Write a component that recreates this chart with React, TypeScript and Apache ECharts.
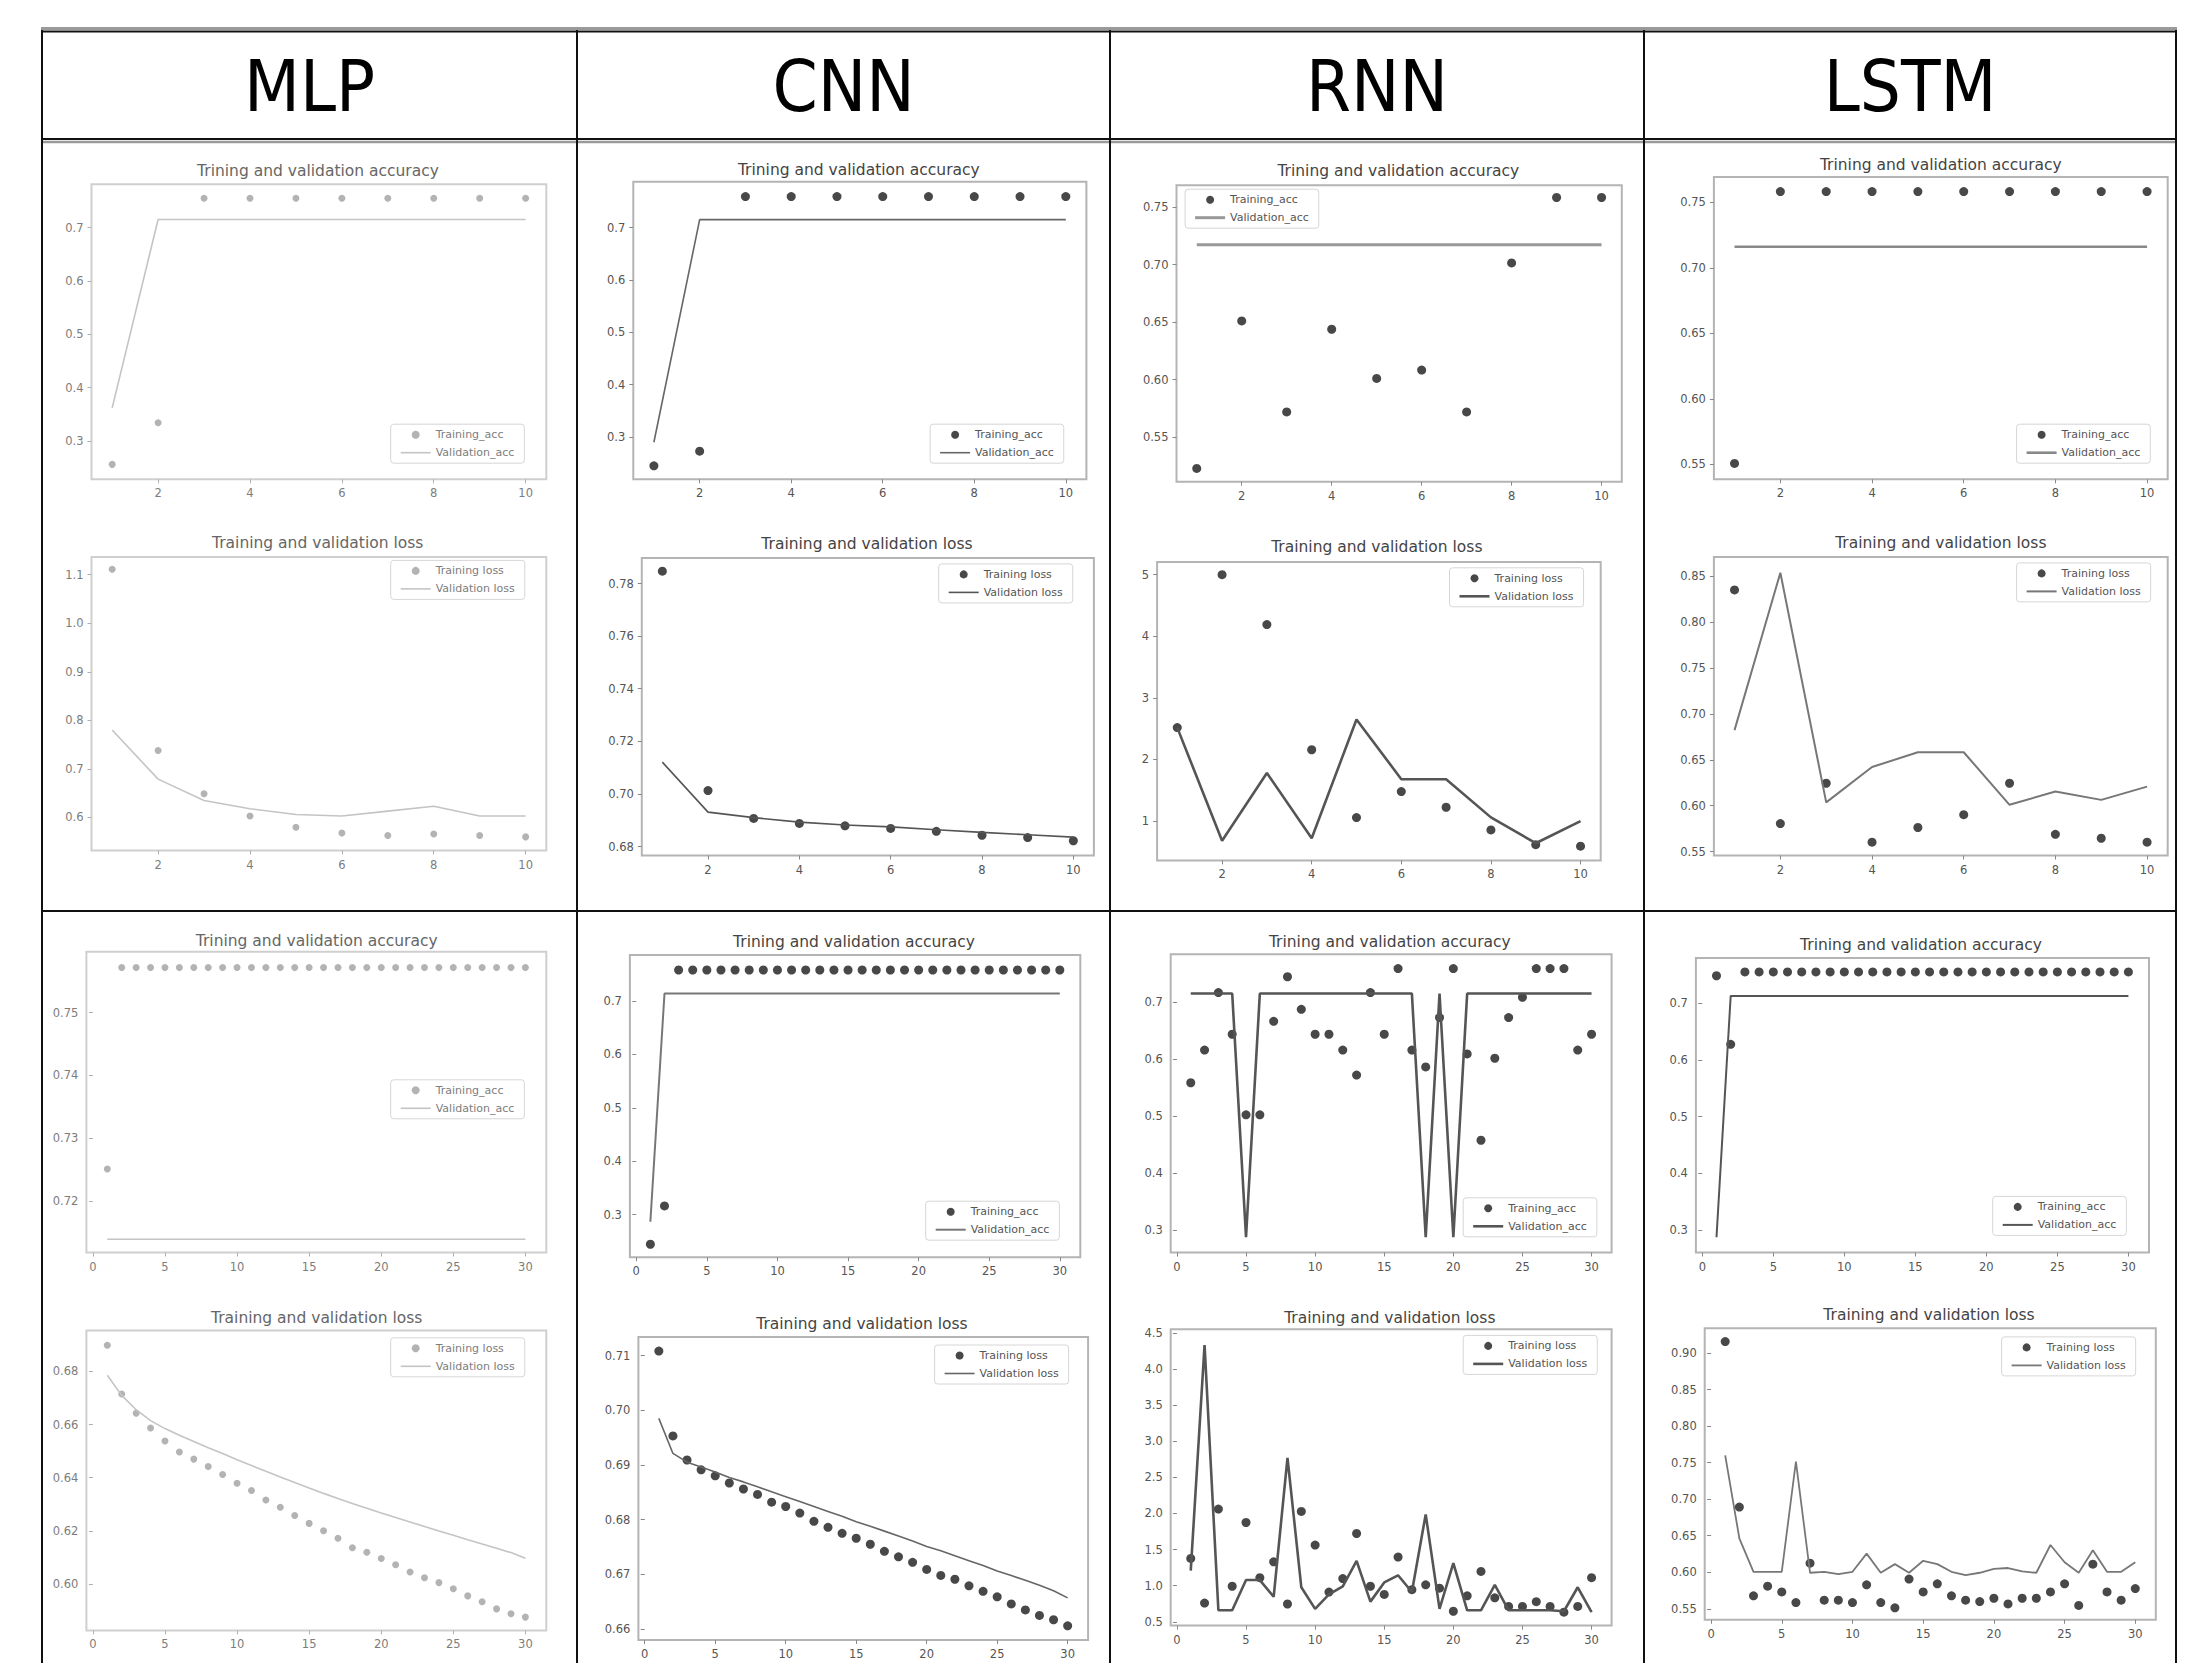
import React, { useEffect, useRef } from 'react';
import * as echarts from 'echarts';

// ---------------- data ----------------
const EPOCHS_10 = [1, 2, 3, 4, 5, 6, 7, 8, 9, 10];
const EPOCHS_30 = [1, 2, 3, 4, 5, 6, 7, 8, 9, 10, 11, 12, 13, 14, 15, 16, 17, 18, 19, 20, 21, 22, 23, 24, 25, 26, 27, 28, 29, 30];

const MODELS = ['MLP', 'CNN', 'RNN', 'LSTM'];
const ACC_TITLE = 'Trining and validation accuracy';
const LOSS_TITLE = 'Training and validation loss';
const ACC_LEGEND = ['Training_acc', 'Validation_acc'];
const LOSS_LEGEND = ['Training loss', 'Validation loss'];

const X_TICKS_10 = ['2', '4', '6', '8', '10'];
const X_TICKS_30 = ['0', '5', '10', '15', '20', '25', '30'];

// 10-epoch runs
const mlp10TrainAcc = [0.256, 0.334, 0.755, 0.755, 0.755, 0.755, 0.755, 0.755, 0.755, 0.755];
const mlp10ValAcc = [0.362, 0.715, 0.715, 0.715, 0.715, 0.715, 0.715, 0.715, 0.715, 0.715];
const mlp10TrainLoss = [1.111, 0.738, 0.649, 0.603, 0.58, 0.568, 0.563, 0.566, 0.563, 0.56];
const mlp10ValLoss = [0.78, 0.679, 0.635, 0.618, 0.606, 0.603, 0.613, 0.623, 0.603, 0.603];

const cnn10TrainAcc = [0.245, 0.273, 0.759, 0.759, 0.759, 0.759, 0.759, 0.759, 0.759, 0.759];
const cnn10ValAcc = [0.29, 0.715, 0.715, 0.715, 0.715, 0.715, 0.715, 0.715, 0.715, 0.715];
const cnn10TrainLoss = [0.7847, 0.7013, 0.6907, 0.6888, 0.6879, 0.6869, 0.6858, 0.6843, 0.6834, 0.6822];
const cnn10ValLoss = [0.7121, 0.6931, 0.691, 0.6893, 0.6882, 0.6875, 0.6864, 0.6854, 0.6845, 0.6836];

const rnn10TrainAcc = [0.5226, 0.6511, 0.5718, 0.6438, 0.601, 0.6082, 0.5718, 0.7016, 0.7586, 0.7586];
const rnn10ValAcc = [0.7175, 0.7175, 0.7175, 0.7175, 0.7175, 0.7175, 0.7175, 0.7175, 0.7175, 0.7175];
const rnn10TrainLoss = [2.517, 5.0, 4.19, 2.158, 1.056, 1.479, 1.224, 0.856, 0.617, 0.593];
const rnn10ValLoss = [2.517, 0.68, 1.78, 0.72, 2.65, 1.68, 1.68, 1.06, 0.64, 1.0];

const lstm10TrainAcc = [0.5508, 0.7583, 0.7583, 0.7583, 0.7583, 0.7583, 0.7583, 0.7583, 0.7583, 0.7583];
const lstm10ValAcc = [0.7162, 0.7162, 0.7162, 0.7162, 0.7162, 0.7162, 0.7162, 0.7162, 0.7162, 0.7162];
const lstm10TrainLoss = [0.835, 0.5805, 0.6244, 0.5602, 0.5762, 0.5902, 0.6244, 0.5688, 0.5645, 0.5602];
const lstm10ValLoss = [0.6823, 0.8538, 0.6036, 0.6421, 0.6582, 0.6582, 0.6009, 0.6154, 0.6063, 0.6207];

// 30-epoch runs
const mlp30TrainAcc = [0.7251, 0.7572, 0.7572, 0.7572, 0.7572, 0.7572, 0.7572, 0.7572, 0.7572, 0.7572, 0.7572, 0.7572, 0.7572, 0.7572, 0.7572, 0.7572, 0.7572, 0.7572, 0.7572, 0.7572, 0.7572, 0.7572, 0.7572, 0.7572, 0.7572, 0.7572, 0.7572, 0.7572, 0.7572, 0.7572];
const mlp30ValAcc = [0.7139, 0.7139, 0.7139, 0.7139, 0.7139, 0.7139, 0.7139, 0.7139, 0.7139, 0.7139, 0.7139, 0.7139, 0.7139, 0.7139, 0.7139, 0.7139, 0.7139, 0.7139, 0.7139, 0.7139, 0.7139, 0.7139, 0.7139, 0.7139, 0.7139, 0.7139, 0.7139, 0.7139, 0.7139, 0.7139];
const mlp30TrainLoss = [0.6899, 0.6715, 0.6643, 0.6587, 0.6538, 0.6497, 0.647, 0.6442, 0.6412, 0.6379, 0.6352, 0.6316, 0.6289, 0.6258, 0.6228, 0.62, 0.6172, 0.6136, 0.6119, 0.6096, 0.6072, 0.6045, 0.6023, 0.6005, 0.5982, 0.5955, 0.5933, 0.5906, 0.5888, 0.5875];
const mlp30ValLoss = [0.6786, 0.671, 0.6656, 0.6615, 0.6585, 0.656, 0.6536, 0.6513, 0.6491, 0.6468, 0.6446, 0.6424, 0.6403, 0.6382, 0.6361, 0.6341, 0.6322, 0.6303, 0.6285, 0.6267, 0.625, 0.6233, 0.6216, 0.6199, 0.6183, 0.6166, 0.615, 0.6134, 0.6118, 0.6097];

const cnn30TrainAcc = [0.2443, 0.3162, 0.7584, 0.7584, 0.7584, 0.7584, 0.7584, 0.7584, 0.7584, 0.7584, 0.7584, 0.7584, 0.7584, 0.7584, 0.7584, 0.7584, 0.7584, 0.7584, 0.7584, 0.7584, 0.7584, 0.7584, 0.7584, 0.7584, 0.7584, 0.7584, 0.7584, 0.7584, 0.7584, 0.7584];
const cnn30ValAcc = [0.2865, 0.7144, 0.7144, 0.7144, 0.7144, 0.7144, 0.7144, 0.7144, 0.7144, 0.7144, 0.7144, 0.7144, 0.7144, 0.7144, 0.7144, 0.7144, 0.7144, 0.7144, 0.7144, 0.7144, 0.7144, 0.7144, 0.7144, 0.7144, 0.7144, 0.7144, 0.7144, 0.7144, 0.7144, 0.7144];
const cnn30TrainLoss = [0.7108, 0.6953, 0.6909, 0.6891, 0.688, 0.6867, 0.6856, 0.6846, 0.6832, 0.6824, 0.6812, 0.6797, 0.6786, 0.6775, 0.6766, 0.6755, 0.6742, 0.6732, 0.6722, 0.6709, 0.6698, 0.6691, 0.6679, 0.6669, 0.6659, 0.6646, 0.6635, 0.6625, 0.6617, 0.6606];
const cnn30ValLoss = [0.6985, 0.6921, 0.6905, 0.6896, 0.6887, 0.6877, 0.6869, 0.686, 0.6851, 0.6842, 0.6833, 0.6824, 0.6815, 0.6806, 0.6796, 0.6788, 0.6779, 0.677, 0.6761, 0.6751, 0.6743, 0.6734, 0.6725, 0.6716, 0.6706, 0.6698, 0.6689, 0.668, 0.667, 0.6657];

const rnn30TrainAcc = [0.5585, 0.6158, 0.7168, 0.6436, 0.5021, 0.5021, 0.6663, 0.7446, 0.6874, 0.6436, 0.6436, 0.6158, 0.572, 0.7168, 0.6436, 0.7589, 0.6158, 0.5863, 0.673, 0.7589, 0.6091, 0.4575, 0.6015, 0.673, 0.7084, 0.7589, 0.7589, 0.7589, 0.6158, 0.6436];
const rnn30ValAcc = [0.7152, 0.7152, 0.7152, 0.7152, 0.2874, 0.7152, 0.7152, 0.7152, 0.7152, 0.7152, 0.7152, 0.7152, 0.7152, 0.7152, 0.7152, 0.7152, 0.7152, 0.2874, 0.7152, 0.2874, 0.7152, 0.7152, 0.7152, 0.7152, 0.7152, 0.7152, 0.7152, 0.7152, 0.7152, 0.7152];
const rnn30TrainLoss = [1.377, 0.759, 2.061, 0.992, 1.875, 1.111, 1.331, 0.746, 2.028, 1.563, 0.912, 1.098, 1.723, 0.992, 0.879, 1.397, 0.945, 1.012, 0.965, 0.646, 0.859, 1.198, 0.832, 0.713, 0.713, 0.779, 0.713, 0.633, 0.713, 1.111];
const rnn30ValLoss = [1.209, 4.334, 0.659, 0.659, 1.078, 1.078, 0.846, 2.772, 0.978, 0.679, 0.879, 0.992, 1.344, 0.779, 1.045, 1.144, 0.912, 1.988, 0.679, 1.311, 0.659, 0.659, 1.012, 0.659, 0.659, 0.659, 0.659, 0.646, 0.978, 0.633];

const lstm30TrainAcc = [0.7482, 0.6273, 0.755, 0.755, 0.755, 0.755, 0.755, 0.755, 0.755, 0.755, 0.755, 0.755, 0.755, 0.755, 0.755, 0.755, 0.755, 0.755, 0.755, 0.755, 0.755, 0.755, 0.755, 0.755, 0.755, 0.755, 0.755, 0.755, 0.755, 0.755];
const lstm30ValAcc = [0.2873, 0.7127, 0.7127, 0.7127, 0.7127, 0.7127, 0.7127, 0.7127, 0.7127, 0.7127, 0.7127, 0.7127, 0.7127, 0.7127, 0.7127, 0.7127, 0.7127, 0.7127, 0.7127, 0.7127, 0.7127, 0.7127, 0.7127, 0.7127, 0.7127, 0.7127, 0.7127, 0.7127, 0.7127, 0.7127];
const lstm30TrainLoss = [0.9158, 0.6892, 0.5677, 0.5809, 0.573, 0.5585, 0.6124, 0.5618, 0.5618, 0.5585, 0.5828, 0.5585, 0.5513, 0.5907, 0.573, 0.5841, 0.5677, 0.5618, 0.5598, 0.5644, 0.5566, 0.5644, 0.5644, 0.573, 0.5841, 0.5546, 0.6111, 0.573, 0.5618, 0.5776];
const lstm30ValLoss = [0.7601, 0.6465, 0.6006, 0.6006, 0.6006, 0.7516, 0.5993, 0.6006, 0.5973, 0.6006, 0.6255, 0.5993, 0.6111, 0.5993, 0.6157, 0.6111, 0.6006, 0.596, 0.5993, 0.6045, 0.6058, 0.6012, 0.5993, 0.6373, 0.6137, 0.5993, 0.6301, 0.6006, 0.6006, 0.6137];

// y tick labels
const Y_ACC_TENTHS = ['0.3', '0.4', '0.5', '0.6', '0.7'];
const Y_MLP10_LOSS = ['0.6', '0.7', '0.8', '0.9', '1.0', '1.1'];
const Y_CNN10_LOSS = ['0.68', '0.70', '0.72', '0.74', '0.76', '0.78'];
const Y_RNN10_ACC = ['0.55', '0.60', '0.65', '0.70', '0.75'];
const Y_RNN10_LOSS = ['1', '2', '3', '4', '5'];
const Y_LSTM10_LOSS = ['0.55', '0.60', '0.65', '0.70', '0.75', '0.80', '0.85'];
const Y_MLP30_ACC = ['0.72', '0.73', '0.74', '0.75'];
const Y_MLP30_LOSS = ['0.60', '0.62', '0.64', '0.66', '0.68'];
const Y_CNN30_LOSS = ['0.66', '0.67', '0.68', '0.69', '0.70', '0.71'];
const Y_RNN30_LOSS = ['0.5', '1.0', '1.5', '2.0', '2.5', '3.0', '3.5', '4.0', '4.5'];
const Y_LSTM30_LOSS = ['0.55', '0.60', '0.65', '0.70', '0.75', '0.80', '0.85', '0.90'];

// ---------------- layout / style ----------------
type Plot = {
  kind: 'acc' | 'loss';
  epochs: number[];
  train: number[];
  val: number[];
  xTicks: string[];
  yTicks: string[];
  box: [number, number, number, number];
  xRange: [number, number];
  yRange: [number, number];
  titlePos: [number, number];
  legendPos: [number, number];
  light: boolean;
  line: [string, number];
};

const R10: [number, number] = [0.55, 10.45];
const R30: [number, number] = [-0.45, 31.45];

const PLOTS: Plot[] = [
  { kind: 'acc', epochs: EPOCHS_10, train: mlp10TrainAcc, val: mlp10ValAcc, xTicks: X_TICKS_10, yTicks: Y_ACC_TENTHS, box: [91.5, 184.3, 454.8, 295.0], xRange: R10, yRange: [0.228, 0.781], titlePos: [318, 170.5], legendPos: [390.7, 424.2], light: true, line: ['#c4c4c4', 1.6] },
  { kind: 'loss', epochs: EPOCHS_10, train: mlp10TrainLoss, val: mlp10ValLoss, xTicks: X_TICKS_10, yTicks: Y_MLP10_LOSS, box: [91.5, 557.0, 454.8, 293.5], xRange: R10, yRange: [0.532, 1.1364], titlePos: [317.7, 543], legendPos: [390.7, 560.4], light: true, line: ['#c4c4c4', 1.6] },
  { kind: 'acc', epochs: EPOCHS_10, train: cnn10TrainAcc, val: cnn10ValAcc, xTicks: X_TICKS_10, yTicks: Y_ACC_TENTHS, box: [633.3, 181.8, 453.1, 297.5], xRange: R10, yRange: [0.2193, 0.7873], titlePos: [858.8, 169.5], legendPos: [930.1, 424.2], light: false, line: ['#666', 1.6] },
  { kind: 'loss', epochs: EPOCHS_10, train: cnn10TrainLoss, val: cnn10ValLoss, xTicks: X_TICKS_10, yTicks: Y_CNN10_LOSS, box: [641.8, 558.0, 452.1, 297.5], xRange: R10, yRange: [0.6766, 0.7897], titlePos: [867, 544], legendPos: [938.7, 563.9], light: false, line: ['#555', 1.6] },
  { kind: 'acc', epochs: EPOCHS_10, train: rnn10TrainAcc, val: rnn10ValAcc, xTicks: X_TICKS_10, yTicks: Y_RNN10_ACC, box: [1176.5, 185.2, 445.3, 296.5], xRange: R10, yRange: [0.511, 0.7693], titlePos: [1398.3, 170.5], legendPos: [1185.1, 189.2], light: false, line: ['#999', 3] },
  { kind: 'loss', epochs: EPOCHS_10, train: rnn10TrainLoss, val: rnn10ValLoss, xTicks: X_TICKS_10, yTicks: Y_RNN10_LOSS, box: [1157.1, 561.9, 443.6, 298.5], xRange: R10, yRange: [0.3613, 5.2076], titlePos: [1376.8, 547], legendPos: [1449.5, 567.8], light: false, line: ['#555', 2.6] },
  { kind: 'acc', epochs: EPOCHS_10, train: lstm10TrainAcc, val: lstm10ValAcc, xTicks: X_TICKS_10, yTicks: Y_RNN10_ACC, box: [1713.9, 176.9, 453.8, 302.4], xRange: R10, yRange: [0.5387, 0.7695], titlePos: [1940.8, 164.6], legendPos: [2016.6, 424.2], light: false, line: ['#888', 2.6] },
  { kind: 'loss', epochs: EPOCHS_10, train: lstm10TrainLoss, val: lstm10ValLoss, xTicks: X_TICKS_10, yTicks: Y_LSTM10_LOSS, box: [1713.9, 557.0, 453.8, 298.5], xRange: R10, yRange: [0.5457, 0.8709], titlePos: [1940.8, 543], legendPos: [2016.6, 562.9], light: false, line: ['#777', 2] },
  { kind: 'acc', epochs: EPOCHS_30, train: mlp30TrainAcc, val: mlp30ValAcc, xTicks: X_TICKS_30, yTicks: Y_MLP30_ACC, box: [86.4, 951.8, 459.9, 300.7], xRange: R30, yRange: [0.7118, 0.7597], titlePos: [316.7, 940.7], legendPos: [390.7, 1079.8], light: true, line: ['#c4c4c4', 1.6] },
  { kind: 'loss', epochs: EPOCHS_30, train: mlp30TrainLoss, val: mlp30ValLoss, xTicks: X_TICKS_30, yTicks: Y_MLP30_LOSS, box: [86.4, 1330.6, 459.9, 299.8], xRange: R30, yRange: [0.5825, 0.6954], titlePos: [316.7, 1317.7], legendPos: [390.7, 1337.8], light: true, line: ['#c4c4c4', 1.6] },
  { kind: 'acc', epochs: EPOCHS_30, train: cnn30TrainAcc, val: cnn30ValAcc, xTicks: X_TICKS_30, yTicks: Y_ACC_TENTHS, box: [629.9, 955.1, 450.4, 302.1], xRange: R30, yRange: [0.22, 0.7863], titlePos: [854, 942.2], legendPos: [925.7, 1201.2], light: false, line: ['#777', 2] },
  { kind: 'loss', epochs: EPOCHS_30, train: cnn30TrainLoss, val: cnn30ValLoss, xTicks: X_TICKS_30, yTicks: Y_CNN30_LOSS, box: [638.4, 1336.9, 449.7, 303.1], xRange: R30, yRange: [0.658, 0.7134], titlePos: [861.9, 1323.5], legendPos: [934.6, 1345], light: false, line: ['#666', 1.6] },
  { kind: 'acc', epochs: EPOCHS_30, train: rnn30TrainAcc, val: rnn30ValAcc, xTicks: X_TICKS_30, yTicks: Y_ACC_TENTHS, box: [1170.7, 954.2, 440.9, 298.3], xRange: R30, yRange: [0.2604, 0.7842], titlePos: [1389.8, 942.2], legendPos: [1463.2, 1197.8], light: false, line: ['#555', 2.6] },
  { kind: 'loss', epochs: EPOCHS_30, train: rnn30TrainLoss, val: rnn30ValLoss, xTicks: X_TICKS_30, yTicks: Y_RNN30_LOSS, box: [1170.7, 1329.2, 440.9, 296.4], xRange: R30, yRange: [0.447, 4.553], titlePos: [1389.8, 1317.7], legendPos: [1463.2, 1335.4], light: false, line: ['#555', 2.6] },
  { kind: 'acc', epochs: EPOCHS_30, train: lstm30TrainAcc, val: lstm30ValAcc, xTicks: X_TICKS_30, yTicks: Y_ACC_TENTHS, box: [1695.9, 958.0, 453.1, 294.5], xRange: R30, yRange: [0.2603, 0.7795], titlePos: [1921, 944.6], legendPos: [1992.7, 1196.4], light: false, line: ['#555', 2] },
  { kind: 'loss', epochs: EPOCHS_30, train: lstm30TrainLoss, val: lstm30ValLoss, xTicks: X_TICKS_30, yTicks: Y_LSTM30_LOSS, box: [1704.7, 1328.2, 451.1, 291.6], xRange: R30, yRange: [0.5349, 0.9341], titlePos: [1929, 1314.8], legendPos: [2001.6, 1336.9], light: false, line: ['#777', 1.8] },
];

const TABLE_X = [42, 577, 1110, 1644, 2176];
const HEADER_FONT = "'Liberation Sans Narrow', 'DejaVu Sans Condensed', 'Open Sans', sans-serif";
const PLOT_FONT = "'DejaVu Sans', sans-serif";

function lineIcon(w: number) {
  return `path://M0,0H30V${w.toFixed(2)}H0Z`;
}

function labelFor(labels: string[]) {
  return (v: number) => {
    let best = labels[0];
    let bd = Infinity;
    for (const l of labels) {
      const d = Math.abs(parseFloat(l) - v);
      if (d < bd) { bd = d; best = l; }
    }
    return best;
  };
}

function buildOption() {
  const grid: any[] = [];
  const xAxis: any[] = [];
  const yAxis: any[] = [];
  const series: any[] = [];
  const legend: any[] = [];
  const graphic: any[] = [];

  PLOTS.forEach((p, i) => {
    const textColor = p.light ? '#7d7d7d' : '#555';
    const frame = p.light ? '#cfcfcf' : '#b4b4b4';
    const tick = p.light ? '#b0b0b0' : '#888';
    const markerColor = p.light ? '#a0a0a0' : '#1a1a1a';
    const markerSize = p.light ? 7 : 9;
    const names = p.kind === 'acc' ? ACC_LEGEND : LOSS_LEGEND;
    const trainName = `${names[0]}|${i}`;
    const valName = `${names[1]}|${i}`;
    const xv = p.xTicks.map(Number);
    const yv = p.yTicks.map(Number);

    grid.push({
      left: p.box[0], top: p.box[1], width: p.box[2], height: p.box[3],
      show: true, borderColor: frame, borderWidth: 2, backgroundColor: '#fff',
      containLabel: false, outerBoundsMode: 'none',
    });
    xAxis.push({
      type: 'value', gridIndex: i, min: p.xRange[0], max: p.xRange[1],
      axisLine: { show: false }, splitLine: { show: false },
      axisTick: { show: true, customValues: xv, length: 4, lineStyle: { color: tick, width: 1 } },
      axisLabel: { customValues: xv, formatter: labelFor(p.xTicks), fontSize: 11.5, color: textColor, margin: 8, fontFamily: PLOT_FONT },
    });
    yAxis.push({
      type: 'value', gridIndex: i, min: p.yRange[0], max: p.yRange[1],
      axisLine: { show: false }, splitLine: { show: false },
      axisTick: { show: true, customValues: yv, length: 4, lineStyle: { color: tick, width: 1 } },
      axisLabel: { customValues: yv, formatter: labelFor(p.yTicks), fontSize: 11.5, color: textColor, margin: 8, fontFamily: PLOT_FONT },
    });
    series.push({
      type: 'scatter', name: trainName, xAxisIndex: i, yAxisIndex: i,
      data: p.epochs.map((e, k) => [e, p.train[k]]),
      symbol: 'circle', symbolSize: markerSize, itemStyle: { color: markerColor },
      silent: true, z: 2,
    });
    series.push({
      type: 'line', name: valName, xAxisIndex: i, yAxisIndex: i,
      data: p.epochs.map((e, k) => [e, p.val[k]]),
      symbol: 'none', showSymbol: false, lineStyle: { color: p.line[0], width: p.line[1] },
      itemStyle: { color: p.line[0] }, silent: true, z: 3,
    });
    legend.push({
      show: true, orient: 'vertical', left: p.legendPos[0], top: p.legendPos[1],
      data: [
        { name: trainName, icon: 'circle' },
        { name: valName, icon: lineIcon(p.line[1]), itemStyle: { color: p.line[0], opacity: 1 } },
      ],
      formatter: (n: string) => n.split('|')[0],
      itemWidth: 30, itemHeight: 8, itemGap: 7, padding: [5, 10, 5, 10],
      borderColor: '#d6d6d6', borderWidth: 1, borderRadius: 3, backgroundColor: '#fff',
      selectedMode: false,
      textStyle: { fontSize: 11, color: textColor, fontFamily: PLOT_FONT },
    });
    graphic.push({
      type: 'text', x: p.titlePos[0], y: p.titlePos[1], silent: true,
      style: {
        text: p.kind === 'acc' ? ACC_TITLE : LOSS_TITLE,
        fontSize: 15.5, fontFamily: PLOT_FONT, fill: p.light ? '#666' : '#444',
        align: 'center', verticalAlign: 'middle', textAlign: 'center', textVerticalAlign: 'middle',
      },
    });
  });

  // table lines
  const L = TABLE_X[0];
  const R = TABLE_X[TABLE_X.length - 1];
  const hLine = (y: number, color: string, w: number) => ({
    type: 'line', silent: true, shape: { x1: L - 1, y1: y, x2: R + 1, y2: y }, style: { stroke: color, lineWidth: w },
  });
  graphic.push(hLine(28.5, '#9a9a9a', 3));
  graphic.push(hLine(31.5, '#111', 2));
  graphic.push(hLine(139, '#111', 2));
  graphic.push(hLine(142, '#9a9a9a', 2.5));
  graphic.push(hLine(911, '#111', 2));
  TABLE_X.forEach((x) => {
    graphic.push({ type: 'line', silent: true, shape: { x1: x, y1: 30, x2: x, y2: 1663 }, style: { stroke: '#111', lineWidth: 2 } });
  });
  MODELS.forEach((m, k) => {
    graphic.push({
      type: 'text', silent: true, x: (TABLE_X[k] + TABLE_X[k + 1]) / 2, y: 86,
      style: { text: m, fontSize: 72, fontFamily: HEADER_FONT, fill: '#000', align: 'center', verticalAlign: 'middle', textAlign: 'center', textVerticalAlign: 'middle' },
    });
  });

  return {
    animation: false,
    backgroundColor: '#fff',
    textStyle: { fontFamily: PLOT_FONT },
    grid, xAxis, yAxis, series, legend,
    graphic: { elements: graphic },
  };
}

export default function App() {
  const ref = useRef<HTMLDivElement>(null);
  useEffect(() => {
    if (!ref.current) return;
    const chart = echarts.init(ref.current, undefined, { renderer: 'svg' });
    chart.setOption(buildOption() as any);
    return () => chart.dispose();
  }, []);
  return (
    <div
      ref={ref}
      style={{ position: 'absolute', left: 0, top: 0, width: 2190, height: 1663, background: '#fff' }}
    />
  );
}
